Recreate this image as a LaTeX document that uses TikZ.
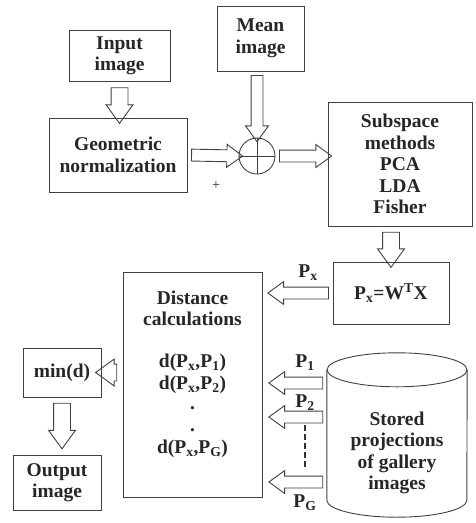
\documentclass[tikz,border=0pt]{standalone}
\usepackage{fontspec}
\setmainfont{Liberation Serif}
\usetikzlibrary{shapes.arrows,calc}

\newcommand{\blockarrow}[3][blk]{%
  \path let \p1=($#3-#2$), \n1={veclen(\x1,\y1)} in #2 -- #3 node[#1,minimum height=\n1]{};}

\begin{document}
\begin{tikzpicture}[x=1pt,y=-1pt,
    font=\fontsize{19.5}{21.5}\selectfont\bfseries, text=black!85,
    box/.style={draw=black!75,line width=0.9pt,align=center,inner sep=0pt},
    blk/.style={draw=black!75,line width=0.9pt,single arrow,sloped,allow upside down,midway,
        inner sep=0pt,inner ysep=5.5pt,single arrow head extend=5.5pt,single arrow tip angle=72},
    blkw/.style={blk,inner ysep=8pt,single arrow head extend=5pt}]
    \useasboundingbox (0,0) rectangle (476,523);
    % boxes
    \node[box,minimum width=101pt,minimum height=51pt] (inp) at (119.5,56) {Input\\image};
    \node[box,minimum width=138pt,minimum height=74pt] (geo) at (118,155) {Geometric\\normalization};
    \node[box,minimum width=87pt,minimum height=65pt] (mean) at (260.5,38.5) {Mean\\image};
    \node[draw=black!75,line width=0.9pt,circle,minimum size=36pt,inner sep=0pt] (sum) at (257,156) {};
    \draw[black!75,line width=0.9pt] (sum.north) -- (sum.south) (sum.west) -- (sum.east);
    \node[font=\fontsize{14}{14}\selectfont] (plus) at (216,186) {+};
    \node[box,minimum width=144pt,minimum height=124pt] (sub) at (400,164) {Subspace\\methods\\PCA\\LDA\\Fisher};
    \node[box,minimum width=116pt,minimum height=62pt] (px) at (391,293) {P\textsubscript{x}=W\textsuperscript{T}X};
    \node[box,minimum width=139pt,minimum height=225pt] (dist) at (192.5,384.5) {};
    \node[align=center,anchor=north,inner sep=0pt] (disttxt) at (192.5,290.5)
        {Distance\\calculations\\[20pt]
         d(P\textsubscript{x},P\textsubscript{1})\\[0.5pt]
         d(P\textsubscript{x},P\textsubscript{2})\\[-1pt]
         .\\[0pt] .\\[0.5pt]
         d(P\textsubscript{x},P\textsubscript{G})};
    \node[box,minimum width=78pt,minimum height=49pt] (mind) at (62,372.5) {min(d)};
    \node[box,minimum width=88pt,minimum height=55pt] (out) at (57,482.5) {Output\\image};
    % stored projections (cylinder)
    \node[minimum width=140pt,minimum height=164pt,inner sep=0pt] (store) at (397,435) {};
    \draw[black!75,line width=0.9pt] ($(store.north)+(0,17)$) ellipse [x radius=70pt,y radius=17pt];
    \draw[black!75,line width=0.9pt] ($(store.north west)+(0,17)$) -- ($(store.south west)+(0,-17)$)
        arc[start angle=180,end angle=360,x radius=70pt,y radius=17pt]
        -- ($(store.north east)+(0,17)$);
    \node[align=center] (storetxt) at (397,453) {Stored\\projections\\of gallery\\images};
    % free ends
    \coordinate (pxend) at (272,293);
    \coordinate (outtip) at (62,443);
    \coordinate (p1end) at (273,383);
    \coordinate (p2end) at (273,417);
    \coordinate (pgend) at (273,482);
    \coordinate (dtop) at (305,425);
    \coordinate (dbot) at (305,469);
    % block arrows
    \blockarrow[blkw]{(inp.south)}{(inp.south |- geo.north)}
    \blockarrow{(geo.east)}{(sum.west)}
    \blockarrow{(sum.north |- mean.south)}{(sum.north)}
    \blockarrow{(sum.east)}{(sub.west |- sum.east)}
    \blockarrow[blkw]{(px.north |- sub.south)}{(px.north)}
    \blockarrow{(px.west)}{(pxend)}
    \blockarrow[blkw]{(dist.west |- mind.east)}{(mind.east)}
    \blockarrow[blkw]{(mind.south)}{(outtip)}
    \blockarrow{(p1end -| store.west)}{(p1end)}
    \blockarrow{(p2end -| store.west)}{(p2end)}
    \blockarrow{(pgend -| store.west)}{(pgend)}
    \draw[black!80,line width=2.7pt,dash pattern=on 6pt off 3pt] (dtop) -- (dbot);
    % labels
    \node (lpx) at (308,273) {P\textsubscript{x}};
    \node (lp1) at (305,363) {P\textsubscript{1}};
    \node (lp2) at (305,403) {P\textsubscript{2}};
    \node (lpg) at (305,503) {P\textsubscript{G}};
\end{tikzpicture}
\end{document}
